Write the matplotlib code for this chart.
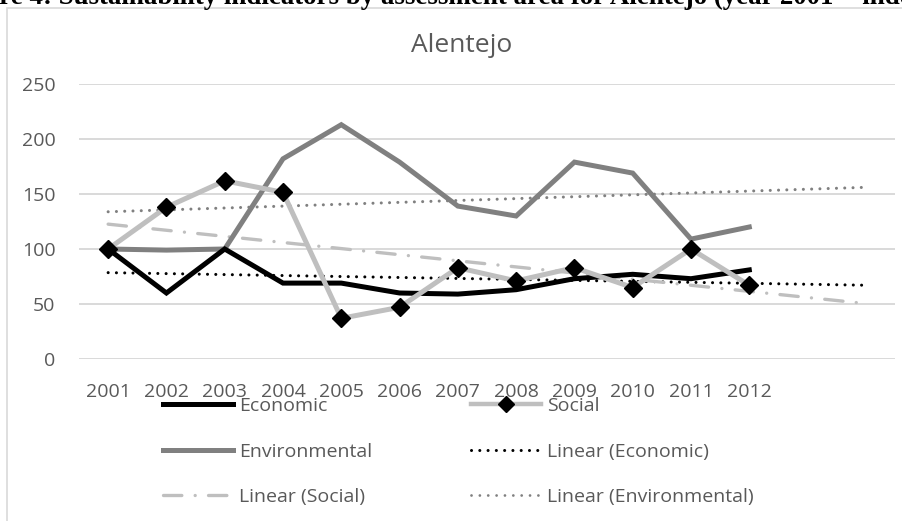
import matplotlib
matplotlib.use("Agg")
import matplotlib.pyplot as plt
from matplotlib.patches import Rectangle
from matplotlib.lines import Line2D
import numpy as np

#%% data
years = ['2001', '2002', '2003', '2004', '2005', '2006',
         '2007', '2008', '2009', '2010', '2011', '2012']
economic = [100, 60, 100, 69, 69, 60, 59, 63, 73, 77, 73, 81]
social = [100, 138, 162, 151.5, 37, 47, 83, 71, 83, 65, 100, 67]
environmental = [100, 99, 100, 182, 213, 179, 139, 130, 179, 169, 109, 120]
forward = 2  # trend lines run 2 periods past the data

#%% styles
txt = '#595959'
grid = '#d9d9d9'
c_eco = 'black'
c_soc = '#bfbfbf'
c_env = '#808080'
plt.rcParams['font.family'] = ['Open Sans', 'DejaVu Sans']

W, H = 902, 521
fig = plt.figure(figsize=(W / 100, H / 100), dpi=100)

def fx(px):
    return px / W

def fy(py):
    return 1 - py / H

# outer chart box
fig.patches.append(Rectangle((fx(7), fy(600)), fx(1000), fy(8) - fy(600),
                             transform=fig.transFigure, fill=False,
                             edgecolor=grid, lw=1.2))

ax = fig.add_axes([fx(79), fy(359), fx(895) - fx(79), fy(84) - fy(359)])

x = np.arange(len(years))
xt = np.arange(len(years) + forward)

dot = (0.01, 2.7)
dashdot = (5.5, 4, 0.01, 4)

# trend lines
for vals, col, dashes, lw in [
        (economic, c_eco, dot, 2.2),
        (social, c_soc, dashdot, 2.4),
        (environmental, c_env, dot, 2.2)]:
    k, b = np.polyfit(x, vals, 1)
    ax.plot(xt, k * xt + b, color=col, lw=lw, dashes=dashes,
            dash_capstyle='round', zorder=2)

ax.plot(x, environmental, color=c_env, lw=3.6, solid_joinstyle='miter', zorder=3)
ax.plot(x, economic, color=c_eco, lw=3.6, solid_joinstyle='miter', zorder=4)
ax.plot(x, social, color=c_soc, lw=3.6, marker='D', ms=9, mfc='black',
        mec='black', solid_joinstyle='miter', zorder=5)

ax.set_xlim(-0.5, len(xt) - 0.5)
ax.set_ylim(0, 250)
ax.set_yticks(range(0, 251, 50))
ax.set_xticks(x)
ax.set_xticklabels(years)
ax.grid(axis='y', color=grid, lw=1.4)
ax.set_axisbelow(True)
for s in ax.spines.values():
    s.set_visible(False)
ax.tick_params(axis='both', length=0, labelsize=14, labelcolor=txt)
ax.tick_params(axis='y', pad=17)
ax.tick_params(axis='x', pad=17)

fig.text(fx(462), fy(46), 'Alentejo', ha='center', va='center',
         fontsize=19, color=txt)

# legend
handles = [
    Line2D([], [], color=c_eco, lw=3.6),
    Line2D([], [], color=c_env, lw=3.6),
    Line2D([], [], color=c_soc, lw=2.4, dashes=dashdot, dash_capstyle='round'),
    Line2D([], [], color=c_soc, lw=3.2, marker='D', ms=8, mfc='black', mec='black'),
    Line2D([], [], color=c_eco, lw=2.2, dashes=dot, dash_capstyle='round'),
    Line2D([], [], color=c_env, lw=2.0, dashes=(0.01, 3.0), dash_capstyle='round'),
]
labels = ['Economic', 'Environmental', 'Linear (Social)',
          'Social', 'Linear (Economic)', 'Linear (Environmental)']
leg = fig.legend(handles, labels, ncol=2, loc='upper left',
                 bbox_to_anchor=(fx(163), fy(397)), frameon=False,
                 fontsize=14, labelcolor=txt, handlelength=3.6,
                 handletextpad=0.3, columnspacing=5.1, labelspacing=1.42,
                 borderpad=0, borderaxespad=0)

# figure caption, cut off by the top edge
cap = 'Figure 4: Sustainability indicators by assessment area for Alentejo (year 2001 = index 100)'
t_fig = fig.text(0, fy(4), 'Figu', family='Liberation Serif', weight='bold',
                 fontsize=19.4, va='baseline')
r = fig.canvas.get_renderer()
w_figu = t_fig.get_window_extent(r).width
t_fig.remove()
fig.text(fx(-w_figu - 1), fy(4), cap, family='Liberation Serif', weight='bold',
         fontsize=19.4, va='baseline', color='black')

fig.savefig('out.png', dpi=100)
